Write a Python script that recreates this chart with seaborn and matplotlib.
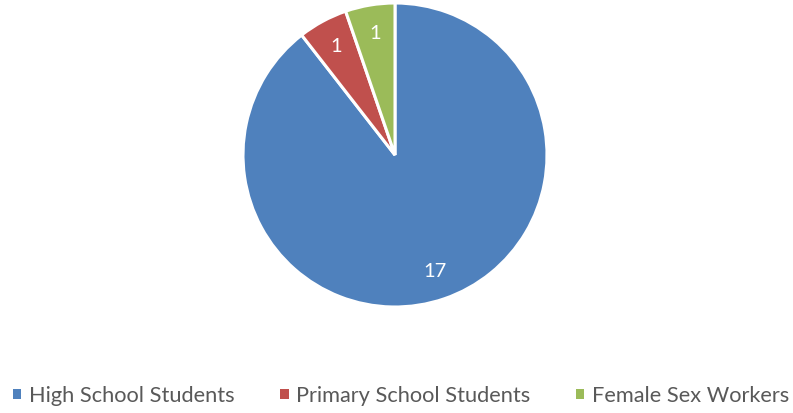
import matplotlib
matplotlib.use("Agg")
import matplotlib.pyplot as plt
import seaborn as sns
from matplotlib.patches import Patch

sns.set_theme(style="white")
plt.rcParams['font.family'] = ['Lato', 'DejaVu Sans']

categories = ["High School Students", "Primary School Students", "Female Sex Workers"]
values = [17, 1, 1]
colors = ["#4F81BD", "#C0504D", "#9BBB59"]

W, H = 793, 413
fig = plt.figure(figsize=(W / 100, H / 100), dpi=100)
cx, cy, r = 395, 155, 152
ax = fig.add_axes([(cx - r) / W, (H - cy - r) / H, 2 * r / W, 2 * r / H])

total = sum(values)
wedges, texts, autotexts = ax.pie(
    values, colors=colors, startangle=90, counterclock=False,
    autopct=lambda p: f"{round(p * total / 100):d}", pctdistance=0.81,
    wedgeprops=dict(edgecolor="white", linewidth=2.2),
    textprops=dict(color="white", fontsize=14.5),
)
ax.set_xlim(-1, 1)
ax.set_ylim(-1, 1)
ax.set_aspect("equal")
ax.axis("off")

handles = [Patch(facecolor=c, edgecolor="none") for c in colors]
fig.legend(handles, categories, loc="lower center", bbox_to_anchor=(0.506, -0.03), ncol=3,
           frameon=False, fontsize=15.7, labelcolor="#595959",
           handlelength=0.37, handleheight=0.37, handletextpad=0.35, columnspacing=2.1)

fig.savefig("out.png", dpi=100)
